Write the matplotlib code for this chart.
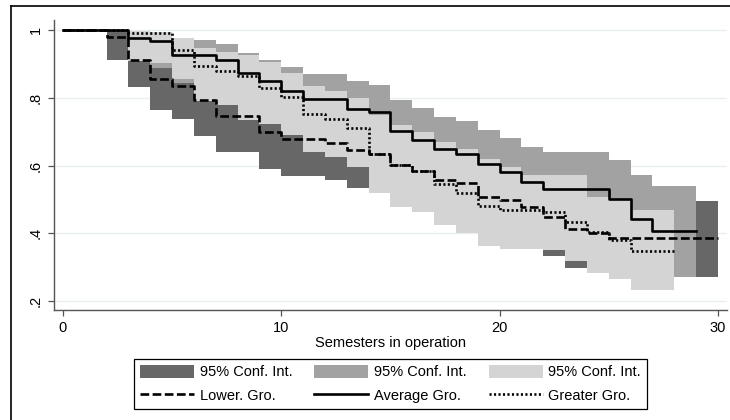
import matplotlib
matplotlib.use('Agg')
import matplotlib.pyplot as plt
from matplotlib.patches import Patch
from matplotlib.lines import Line2D

plt.rcParams['font.family'] = ['Liberation Sans', 'DejaVu Sans']

# ---- Kaplan-Meier survival estimates (step start times, values, end time) ----
lower_t = [0, 2, 3, 4, 5, 6, 7, 9, 10, 12, 13, 14, 15, 16, 17, 18, 19, 20, 21, 22, 23, 24, 25]
lower_s = [1.0, 0.979, 0.913, 0.857, 0.834, 0.793, 0.746, 0.698, 0.679, 0.667, 0.645, 0.635,
           0.603, 0.583, 0.558, 0.548, 0.509, 0.499, 0.479, 0.449, 0.412, 0.402, 0.388]
lower_end = 30

avg_t = [0, 3, 4, 5, 7, 8, 9, 10, 11, 13, 14, 15, 16, 17, 18, 19, 20, 21, 22, 25, 26, 27]
avg_s = [1.0, 0.976, 0.967, 0.927, 0.913, 0.875, 0.849, 0.821, 0.796, 0.767, 0.757, 0.702,
         0.677, 0.650, 0.633, 0.606, 0.580, 0.552, 0.530, 0.503, 0.444, 0.408]
avg_end = 29

greater_t = [0, 3, 5, 6, 7, 8, 9, 10, 11, 12, 13, 14, 15, 16, 17, 18, 19, 20, 22, 23, 24, 25, 26]
greater_s = [1.0, 0.991, 0.940, 0.894, 0.879, 0.866, 0.829, 0.803, 0.753, 0.738, 0.712, 0.635,
             0.601, 0.583, 0.545, 0.520, 0.482, 0.468, 0.462, 0.435, 0.405, 0.381, 0.349]
greater_end = 28

# ---- 95% confidence bands ----
dark_t = [2, 3, 4, 5, 6, 7, 9, 10, 12, 13, 14, 15, 16, 17, 18, 19, 20, 21, 22, 23, 24, 25, 29]
dark_lo = [0.913, 0.831, 0.765, 0.739, 0.689, 0.640, 0.591, 0.571, 0.558, 0.534, 0.53, 0.50,
           0.48, 0.455, 0.445, 0.405, 0.395, 0.385, 0.333, 0.297, 0.29, 0.275, 0.27]
dark_hi = [1.0, 0.98, 0.94, 0.92, 0.89, 0.845, 0.80, 0.785, 0.775, 0.755, 0.74, 0.71,
           0.69, 0.665, 0.655, 0.615, 0.605, 0.595, 0.565, 0.525, 0.515, 0.497, 0.497]
dark_end = 30

med_t = [3, 4, 5, 6, 7, 8, 9, 10, 11, 13, 14, 15, 16, 17, 18, 19, 20, 21, 22, 25, 26, 27, 28]
med_hi = [0.995, 0.99, 0.975, 0.970, 0.959, 0.933, 0.912, 0.89, 0.871, 0.849, 0.839, 0.793,
          0.770, 0.744, 0.731, 0.706, 0.682, 0.655, 0.639, 0.617, 0.573, 0.541, 0.541]
med_lo = [0.915, 0.889, 0.845, 0.81, 0.80, 0.77, 0.75, 0.72, 0.70, 0.67, 0.65, 0.60,
          0.575, 0.545, 0.53, 0.50, 0.47, 0.44, 0.42, 0.39, 0.33, 0.29, 0.271]
med_end = 29

light_t = [3, 4, 5, 6, 7, 8, 9, 10, 11, 12, 13, 14, 15, 16, 17, 18, 19, 20, 21, 22, 23, 24, 25, 26, 27]
light_hi = [0.998, 0.995, 0.977, 0.947, 0.936, 0.926, 0.906, 0.874, 0.834, 0.820, 0.800, 0.75,
            0.72, 0.70, 0.67, 0.65, 0.62, 0.595, 0.573, 0.573, 0.573, 0.509, 0.50, 0.47, 0.47]
light_lo = [0.909, 0.904, 0.856, 0.79, 0.78, 0.734, 0.723, 0.691, 0.64, 0.627, 0.597, 0.519,
            0.479, 0.464, 0.425, 0.40, 0.363, 0.353, 0.353, 0.350, 0.318, 0.283, 0.265, 0.233, 0.233]
light_end = 28

x_ticks = [0, 10, 20, 30]
y_ticks = [0.2, 0.4, 0.6, 0.8, 1.0]
y_tick_labels = ['.2', '.4', '.6', '.8', '1']
x_label = 'Semesters in operation'
legend_labels = ['95% Conf. Int.', 'Lower. Gro.', '95% Conf. Int.', 'Average Gro.',
                 '95% Conf. Int.', 'Greater Gro.']

C_DARK = '#676767'
C_MED = '#a2a2a2'
C_LIGHT = '#d4d4d4'


def ext(t, v, end):
    return list(t) + [end], list(v) + [v[-1]]


fig = plt.figure(figsize=(7.3, 4.2), dpi=100)
ax = fig.add_axes([54 / 730, 1 - 310 / 420, (727 - 54) / 730, (310 - 20) / 420])

for t, lo, hi, end, c in [(dark_t, dark_lo, dark_hi, dark_end, C_DARK),
                          (med_t, med_lo, med_hi, med_end, C_MED),
                          (light_t, light_lo, light_hi, light_end, C_LIGHT)]:
    x, l = ext(t, lo, end)
    _, h = ext(t, hi, end)
    ax.fill_between(x, l, h, step='post', color=c, lw=0, zorder=2)

lw = 1.9
x, s = ext(lower_t, lower_s, lower_end)
ax.step(x, s, where='post', color='black', lw=lw, linestyle=(0, (3.3, 1.3)), zorder=3)
x, s = ext(avg_t, avg_s, avg_end)
ax.step(x, s, where='post', color='black', lw=lw, zorder=3)
x, s = ext(greater_t, greater_s, greater_end)
ax.step(x, s, where='post', color='black', lw=lw, linestyle=(0, (0.8, 0.9)), zorder=3)

ax.set_xlim(-0.41, 30.42)
ax.set_ylim(0.174, 1.03)
ax.set_xticks(x_ticks)
ax.set_yticks(y_ticks)
ax.set_yticklabels(y_tick_labels, rotation=90, va='center')
ax.grid(axis='y', color='#eaf0f2', lw=1.0, zorder=1)
ax.set_axisbelow(True)
for sp in ['top', 'right']:
    ax.spines[sp].set_visible(False)
for sp in ['left', 'bottom']:
    ax.spines[sp].set_color('#555555')
    ax.spines[sp].set_linewidth(1.0)
ax.tick_params(axis='both', direction='out', length=4, width=0.9, color='#555555',
               labelsize=10.5, pad=4)
ax.set_xlabel(x_label, fontsize=10.5, labelpad=1)

handles = [Patch(facecolor=C_DARK, edgecolor='none'),
           Line2D([], [], color='black', lw=lw, linestyle=(0, (3.3, 1.3))),
           Patch(facecolor=C_MED, edgecolor='none'),
           Line2D([], [], color='black', lw=lw),
           Patch(facecolor=C_LIGHT, edgecolor='none'),
           Line2D([], [], color='black', lw=lw, linestyle=(0, (0.8, 0.9)))]
leg = fig.legend(handles, legend_labels, ncol=3, loc='center',
                 bbox_to_anchor=(390.5 / 730, 1 - 384 / 420), fontsize=10.5,
                 frameon=True, fancybox=False, edgecolor='black', framealpha=1,
                 handlelength=3.7, handleheight=1.0, handletextpad=0.4,
                 columnspacing=1.5, borderpad=0.38, labelspacing=0.65,
                 borderaxespad=0)
leg.get_frame().set_linewidth(0.9)

# outer border (left and top edges visible)
fig.add_artist(Line2D([11 / 730, 11 / 730], [0, 1 - 6 / 420], color='black', lw=1.2,
                      transform=fig.transFigure))
fig.add_artist(Line2D([11 / 730, 1], [1 - 6 / 420, 1 - 6 / 420], color='black', lw=1.2,
                      transform=fig.transFigure))

fig.savefig('out.png', dpi=100, facecolor='white')
